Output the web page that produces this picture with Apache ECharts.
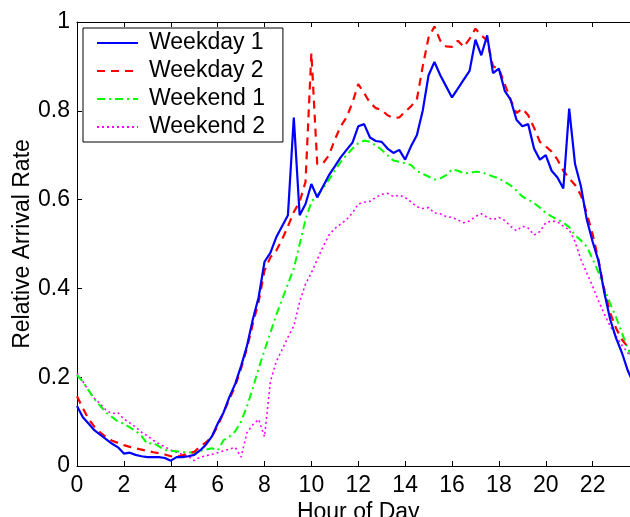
<!DOCTYPE html>
<html>
<head>
<meta charset="utf-8">
<script src="https://cdn.jsdelivr.net/npm/echarts@6/dist/echarts.min.js"></script>
<style>
html,body{margin:0;padding:0;background:#fff;}
#chart{width:630px;height:517px;}
</style>
</head>
<body>
<div id="chart"></div>
<script>
// Hour of day, sampled every quarter hour
const hours = [];
for (let i = 0; i <= 96; i++) hours.push(i / 4);

const seriesNames = ['Weekday 1', 'Weekday 2', 'Weekend 1', 'Weekend 2'];

const weekday1 = [
  0.135,0.11,0.095,0.08,0.07,0.06,0.05,0.042,0.028,0.03,0.025,0.022,
  0.02,0.02,0.02,0.018,0.012,0.02,0.02,0.022,0.025,0.035,0.048,0.066,
  0.095,0.12,0.155,0.185,0.225,0.27,0.33,0.38,0.46,0.48,0.515,0.54,
  0.565,0.785,0.565,0.59,0.635,0.605,0.63,0.655,0.675,0.695,0.712,0.728,
  0.765,0.77,0.74,0.732,0.73,0.715,0.705,0.712,0.69,0.72,0.745,0.8,
  0.88,0.91,0.88,0.855,0.83,0.85,0.87,0.89,0.96,0.925,0.97,0.885,
  0.895,0.845,0.825,0.78,0.765,0.77,0.715,0.69,0.7,0.665,0.65,0.625,
  0.805,0.68,0.63,0.555,0.505,0.462,0.39,0.33,0.288,0.255,0.215,0.185,
  0.16
];

const weekday2 = [
  0.157,0.13,0.105,0.088,0.075,0.065,0.057,0.052,0.047,0.043,0.04,0.037,
  0.034,0.031,0.029,0.026,0.022,0.021,0.024,0.028,0.032,0.043,0.053,0.066,
  0.09,0.12,0.15,0.18,0.22,0.265,0.32,0.37,0.44,0.47,0.485,0.51,
  0.54,0.572,0.595,0.64,0.93,0.68,0.682,0.70,0.735,0.765,0.785,0.818,
  0.86,0.84,0.818,0.806,0.802,0.79,0.784,0.785,0.798,0.81,0.825,0.9,
  0.965,0.99,0.958,0.945,0.944,0.958,0.944,0.962,0.985,0.97,0.958,0.9,
  0.895,0.86,0.825,0.795,0.805,0.79,0.762,0.73,0.72,0.708,0.69,0.665,
  0.648,0.633,0.61,0.569,0.522,0.464,0.395,0.345,0.31,0.285,0.268,0.255,
  0.24
];

const weekend1 = [
  0.205,0.19,0.17,0.15,0.135,0.12,0.11,0.10,0.095,0.087,0.079,0.068,
  0.05,0.052,0.044,0.036,0.034,0.033,0.031,0.031,0.03,0.034,0.037,0.04,
  0.035,0.058,0.066,0.078,0.1,0.134,0.175,0.22,0.26,0.3,0.34,0.375,
  0.41,0.445,0.50,0.555,0.595,0.61,0.625,0.645,0.665,0.685,0.7,0.715,
  0.727,0.733,0.73,0.722,0.712,0.7,0.688,0.685,0.682,0.678,0.665,0.658,
  0.652,0.645,0.648,0.655,0.668,0.665,0.659,0.66,0.663,0.662,0.657,0.652,
  0.648,0.64,0.632,0.62,0.607,0.6,0.592,0.582,0.57,0.562,0.555,0.548,
  0.538,0.52,0.508,0.494,0.466,0.436,0.40,0.365,0.335,0.3,0.265,0.235,
  0.205
];

const weekend2 = [
  0.209,0.19,0.17,0.152,0.14,0.125,0.118,0.12,0.106,0.097,0.088,0.076,
  0.068,0.058,0.05,0.043,0.036,0.031,0.026,0.022,0.012,0.02,0.023,0.026,
  0.03,0.034,0.038,0.042,0.02,0.075,0.093,0.105,0.066,0.19,0.235,0.262,
  0.29,0.315,0.37,0.41,0.435,0.465,0.494,0.52,0.535,0.545,0.555,0.57,
  0.59,0.594,0.596,0.605,0.612,0.614,0.607,0.61,0.605,0.595,0.584,0.58,
  0.582,0.57,0.568,0.562,0.56,0.554,0.548,0.552,0.562,0.568,0.56,0.555,
  0.56,0.553,0.54,0.53,0.54,0.536,0.52,0.528,0.548,0.552,0.55,0.54,
  0.532,0.505,0.465,0.435,0.405,0.372,0.342,0.315,0.292,0.272,0.255,0.238,
  0.22
];

const xTicks = [0,2,4,6,8,10,12,14,16,18,20,22];
const yTicks = [0,0.2,0.4,0.6,0.8,1];

const allValues = [weekday1, weekday2, weekend1, weekend2];
const colors = ['#0000ff', '#ff0000', '#00ff00', '#ff00ff'];
const lineStyles = [
  {width: 2.2, type: 'solid'},
  {width: 2.2, type: [8, 6]},
  {width: 2, type: [8, 4, 2, 4]},
  {width: 1.6, type: [2, 3]}
];

const FONT = '"Liberation Sans", Arial, Helvetica, sans-serif';

const chart = echarts.init(document.getElementById('chart'));

const commonAxisLine = {show: true, lineStyle: {color: '#000', width: 1}};
const commonTick = {show: true, inside: true, length: 5, lineStyle: {color: '#000', width: 1}};

chart.setOption({
  animation: false,
  backgroundColor: '#fff',
  textStyle: {fontFamily: FONT},
  grid: {left: 77, top: 22, bottom: 51, right: -9.5, containLabel: false, outerBoundsMode: 'none'},
  legend: {
    orient: 'vertical',
    left: 83,
    top: 28,
    data: seriesNames,
    itemWidth: 41,
    itemHeight: 14,
    itemGap: 4,
    padding: [3, 18, 3, 13],
    backgroundColor: '#fff',
    borderColor: '#000',
    borderWidth: 1,
    borderRadius: 0,
    itemStyle: {color: 'rgba(0,0,0,0)', borderWidth: 0, opacity: 0},
    textStyle: {fontSize: 23, color: '#000', fontFamily: FONT, lineHeight: 24, padding: [0, 0, 0, 6]}
  },
  xAxis: [
    {
      type: 'value', position: 'bottom', min: 0, max: 24, interval: 2,
      name: 'Hour of Day', nameLocation: 'middle', nameGap: 35, nameMoveOverlap: false,
      nameTextStyle: {fontSize: 23, color: '#000', fontFamily: FONT},
      axisLine: commonAxisLine, axisTick: commonTick,
      axisLabel: {fontSize: 23, color: '#000', margin: 8, fontFamily: FONT,
        formatter: v => xTicks.indexOf(v) >= 0 ? String(v) : ''},
      splitLine: {show: false}
    },
    {
      type: 'value', position: 'top', min: 0, max: 24, interval: 2,
      axisLine: commonAxisLine, axisTick: commonTick,
      axisLabel: {show: false}, splitLine: {show: false}
    }
  ],
  yAxis: [
    {
      type: 'value', position: 'left', min: 0, max: 1, interval: 0.2,
      name: 'Relative Arrival Rate', nameLocation: 'middle', nameGap: 43, nameMoveOverlap: false,
      nameTextStyle: {fontSize: 23, color: '#000', fontFamily: FONT},
      axisLine: commonAxisLine, axisTick: commonTick,
      axisLabel: {fontSize: 23, color: '#000', margin: 7, fontFamily: FONT,
        formatter: v => { const t = yTicks.find(k => Math.abs(k - v) < 1e-9); return t === undefined ? '' : String(t); }},
      splitLine: {show: false}
    }
  ],
  series: seriesNames.map((name, i) => ({
    name: name,
    type: 'line',
    xAxisIndex: 0,
    yAxisIndex: 0,
    showSymbol: false,
    symbol: 'none',
    smooth: false,
    color: colors[i],
    lineStyle: Object.assign({color: colors[i]}, lineStyles[i]),
    data: hours.map((h, k) => [h, allValues[i][k]]),
    z: 10 - i
  }))
});
</script>
</body>
</html>
